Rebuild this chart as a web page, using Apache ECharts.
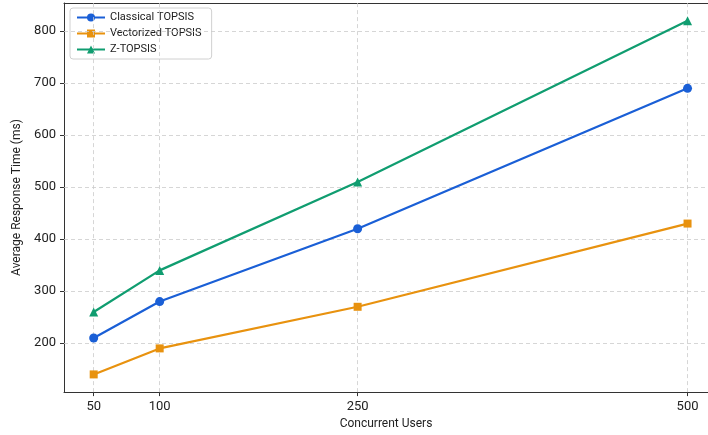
<!DOCTYPE html>
<html>
<head>
<meta charset="utf-8">
<script src="https://cdn.jsdelivr.net/npm/echarts@6/dist/echarts.min.js"></script>
<style>html,body{margin:0;padding:0;background:#fff}#c{width:708px;height:435px}</style>
</head>
<body>
<div id="c"></div>
<script>
const users = [50, 100, 250, 500];
const classical = [210, 280, 420, 690];
const vectorized = [140, 190, 270, 430];
const ztopsis = [260, 340, 510, 820];
const xTicks = [50, 100, 250, 500];
const yTicks = [200, 300, 400, 500, 600, 700, 800];
const seriesNames = ['Classical TOPSIS', 'Vectorized TOPSIS', 'Z-TOPSIS'];

const FONT = 'Roboto';
const chart = echarts.init(document.getElementById('c'), null, {renderer: 'canvas'});
const pairs = (vals) => users.map((u, i) => [u, vals[i]]);
const gridStyle = {color: '#cccccc', type: [4, 3], width: 0.8};
const X_MIN = 27.5, X_MAX = 515.5;

const option = {
  animation: false,
  textStyle: {fontFamily: FONT},
  grid: {left: 64, right: 0, top: 3, bottom: 42, show: false, containLabel: false},
  legend: {
    left: 70, top: 8, orient: 'vertical',
    data: seriesNames,
    itemWidth: 28, itemHeight: 10, itemGap: 5,
    padding: [4, 10, 4, 6],
    backgroundColor: '#fff', borderColor: '#d0d0d0', borderWidth: 1, borderRadius: 3,
    textStyle: {fontSize: 11, color: '#222', fontFamily: FONT}
  },
  xAxis: [{
    type: 'value', min: X_MIN, max: X_MAX,
    name: 'Concurrent Users', nameLocation: 'middle', nameGap: 23,
    nameTextStyle: {fontSize: 12, color: '#222'},
    axisLine: {show: true, lineStyle: {color: '#333', width: 1}},
    axisTick: {show: true, customValues: xTicks, length: 4, lineStyle: {color: '#333'}},
    axisLabel: {customValues: xTicks, fontSize: 13, color: '#222', margin: 8},
    splitLine: {show: false}
  }, {
    type: 'value', min: X_MIN, max: X_MAX, position: 'top',
    axisLine: {show: true, lineStyle: {color: '#333', width: 1}},
    axisTick: {show: false}, axisLabel: {show: false}, splitLine: {show: false}
  }],
  yAxis: {
    type: 'value', min: 106, max: 854,
    name: 'Average Response Time (ms)', nameLocation: 'middle', nameGap: 36,
    nameTextStyle: {fontSize: 12, color: '#222'},
    axisLine: {show: true, lineStyle: {color: '#333', width: 1}},
    axisTick: {show: true, customValues: yTicks, length: 4, lineStyle: {color: '#333'}},
    axisLabel: {customValues: yTicks, fontSize: 13, color: '#222', margin: 8},
    splitLine: {show: false}
  },
  series: [
    {
      name: 'gridlines', type: 'line', data: [], silent: true,
      markLine: {
        silent: true, symbol: 'none', label: {show: false},
        lineStyle: gridStyle,
        data: xTicks.map(v => ({xAxis: v})).concat(yTicks.map(v => ({yAxis: v})))
      }
    },
    {
      name: seriesNames[0], type: 'line', data: pairs(classical),
      symbol: 'circle', symbolSize: 9, color: '#1a5fd6',
      lineStyle: {width: 2.2}, z: 5
    },
    {
      name: seriesNames[1], type: 'line', data: pairs(vectorized),
      symbol: 'rect', symbolSize: 8, color: '#e8920f',
      lineStyle: {width: 2.2}, z: 5
    },
    {
      name: seriesNames[2], type: 'line', data: pairs(ztopsis),
      symbol: 'triangle', symbolSize: 9, color: '#109d70',
      lineStyle: {width: 2.2}, z: 5
    }
  ]
};
chart.setOption(option);
</script>
</body>
</html>
